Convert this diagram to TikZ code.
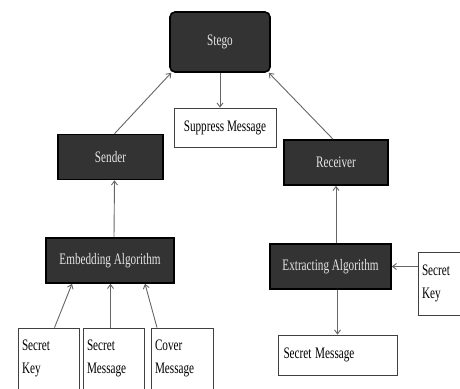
\documentclass[tikz,border=0pt]{standalone}
\usepackage{fontspec}
\setmainfont{Liberation Serif}
\usepackage{graphicx}
\usetikzlibrary{arrows.meta}
\newcommand{\sqz}[1]{\scalebox{0.7}[1]{#1}}

\begin{document}
\begin{tikzpicture}[x=1pt,y=-1pt,
  darkbox/.style={draw=black,line width=1.6pt,fill=black!80,text=white!90!black,
    minimum width=#1,minimum height=45pt,inner sep=0pt,font=\fontsize{16}{18}\selectfont},
  lightbox/.style={draw=black!75,line width=0.8pt,fill=white,
    minimum width=#1,inner sep=0pt,font=\fontsize{16}{23}\selectfont},
  arr/.style={draw=black!60,line width=0.9pt,-{Straight Barb[length=4pt,width=6pt]}}]
\useasboundingbox[fill=white] (0,0) rectangle (460,388);
\begin{scope}
\clip (0,0) rectangle (460,388);

% top level
\node[darkbox=100pt,minimum height=60pt,rounded corners=5pt] (stego) at (220,42) {\sqz{Stego}};
\node[lightbox=102pt,minimum height=39pt] (suppress) at (225,127.5) {\sqz{Suppress Message}};
\node[darkbox=105pt] (sender) at (110.5,157) {\sqz{Sender}};
\node[darkbox=104pt] (receiver) at (336,162.5) {\sqz{Receiver}};

% algorithms
\node[darkbox=128pt] (embed) at (110,260.5) {\sqz{Embedding Algorithm}};
\node[darkbox=121pt] (extract) at (330.5,266.5) {\sqz{Extracting Algorithm}};

% inputs and outputs
\node[lightbox=48pt,minimum height=63pt,align=left,text width=40pt] (keyR) at (442,283.5)
  {\sqz{Secret}\\\sqz{Key}};
\node[lightbox=119pt,minimum height=40pt,align=left,text width=108pt] (msgR) at (337.5,355)
  {\sqz{Secret Message}};
\node[lightbox=61pt,minimum height=61pt,align=left,text width=53pt] (keyL) at (48.5,358.5)
  {\sqz{Secret}\\\sqz{Key}};
\node[lightbox=61pt,minimum height=61pt,align=left,text width=53pt] (msgL) at (113.5,358.5)
  {\sqz{Secret}\\\sqz{Message}};
\node[lightbox=62pt,minimum height=61pt,align=left,text width=54pt] (coverL) at (182,358.5)
  {\sqz{Cover}\\\sqz{Message}};

% connectors
\draw[arr] ([xshift=4pt]sender.north) -- ([xshift=2pt]stego.south west);
\draw[arr] ([xshift=-3pt]receiver.north) -- ([xshift=-2pt]stego.south east);
\draw[arr] (stego.south) -- (stego.south |- suppress.north);
\draw[arr] ([xshift=4pt]embed.north) -- ([xshift=4pt]sender.south);
\draw[arr] ([xshift=6pt]keyL.north) -- ([xshift=-38pt]embed.south);
\draw[arr] ([xshift=-3pt]msgL.north) -- ([xshift=-3pt]msgL.north |- embed.south);
\draw[arr] ([xshift=-25pt]coverL.north) -- ([xshift=35pt]embed.south);
\draw[arr] (receiver.south |- extract.north) -- (receiver.south);
\draw[arr] (keyR.west |- extract.east) -- (extract.east);
\draw[arr] (msgR.north |- extract.south) -- (msgR.north);
\end{scope}
\end{tikzpicture}
\end{document}
